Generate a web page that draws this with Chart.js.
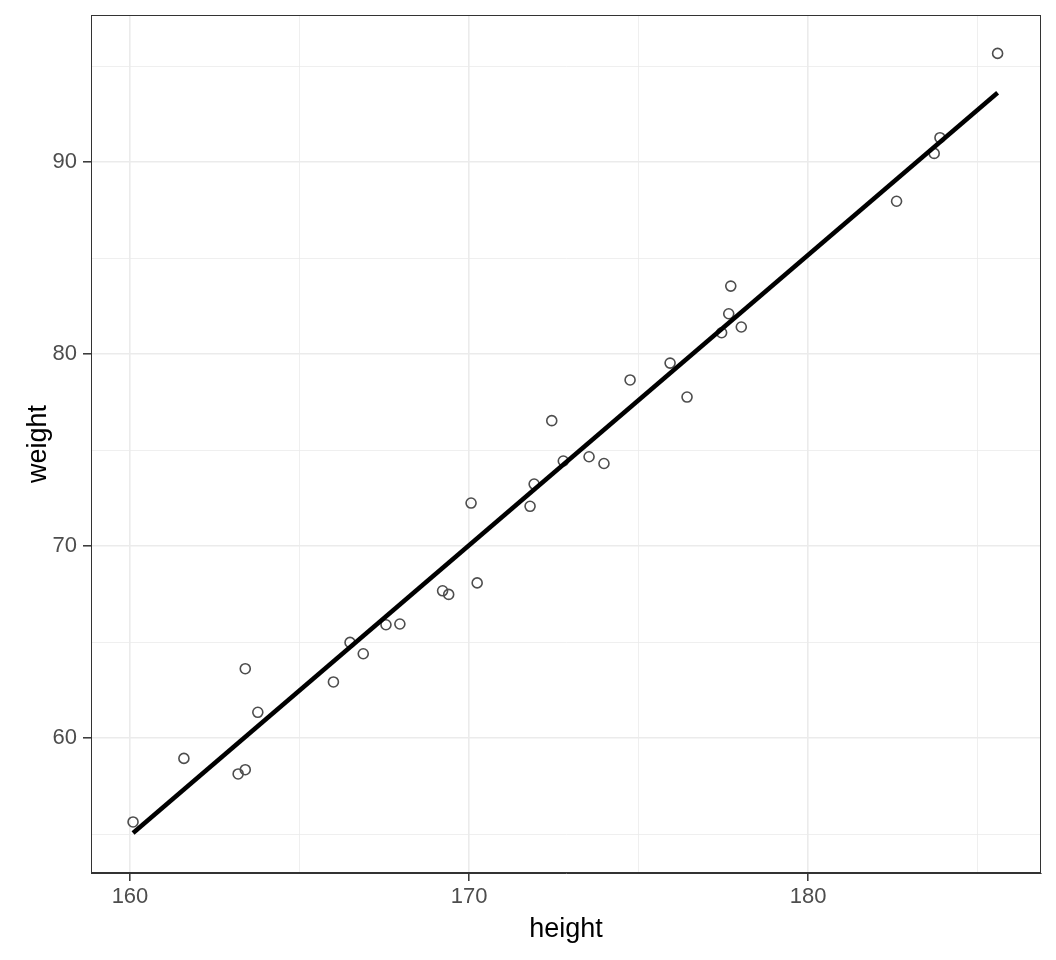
<!DOCTYPE html>
<html>
<head>
<meta charset="utf-8">
<script src="https://cdn.jsdelivr.net/npm/chart.js@4"></script>
<style>
  body { margin: 0; background: #fff; }
  canvas { display: block; }
</style>
</head>
<body>
<canvas id="chart" width="1056" height="960"></canvas>
<script>
// data
const heights = [160.09, 161.59, 163.19, 163.40, 163.40, 163.77, 166.00, 166.49, 166.88, 167.55, 167.96,
                 169.22, 169.40, 170.06, 170.24, 171.80, 171.92, 172.44, 172.78, 173.54, 173.98,
                 174.75, 175.93, 176.43, 177.45, 177.66, 177.72, 178.03, 182.61, 183.72, 183.89, 185.59];
const weights = [55.63, 58.94, 58.13, 58.35, 63.61, 61.34, 62.92, 64.98, 64.39, 65.90, 65.94,
                 67.67, 67.48, 72.24, 68.08, 72.07, 73.23, 76.53, 74.43, 74.65, 74.30,
                 78.65, 79.53, 77.76, 81.11, 82.10, 83.54, 81.41, 87.96, 90.45, 91.27, 95.66];

// fitted line ends
const fitX = [160.09, 185.59];
const fitY = [55.05, 93.61];

const xTicks = [160, 165, 170, 175, 180, 185];
const yTicks = [55, 60, 65, 70, 75, 80, 85, 90, 95];

const pts = heights.map((h, i) => ({ x: h, y: weights[i] }));
const fit = fitX.map((h, i) => ({ x: h, y: fitY[i] }));

// frame round the panel (theme_bw border)
const panelBorder = {
    id: 'panelBorder',
    afterDraw(chart) {
        const a = chart.chartArea;
        const c = chart.ctx;
        c.save();
        c.strokeStyle = '#333333';
        c.lineWidth = 1;
        c.strokeRect(a.left + 0.5, a.top + 0.5, a.right - a.left - 1, a.bottom - a.top - 1);
        c.restore();
    }
};

const isMajor = v => v % 10 === 0;

new Chart(document.getElementById('chart').getContext('2d'), {
    type: 'scatter',
    data: {
        datasets: [{
            type: 'line',
            data: fit,
            borderColor: '#000000',
            borderWidth: 4.5,
            pointRadius: 0,
            fill: false,
            order: 0
        }, {
            data: pts,
            pointStyle: 'circle',
            pointRadius: 5,
            borderWidth: 1.6,
            borderColor: '#4d4d4d',
            backgroundColor: 'rgba(0,0,0,0)',
            order: 1
        }]
    },
    options: {
        responsive: false,
        animation: false,
        layout: { padding: { left: 0, right: 15, top: 15, bottom: 0 } },
        plugins: { legend: { display: false }, tooltip: { enabled: false } },
        scales: {
            x: {
                type: 'linear',
                min: 158.85,
                max: 186.87,
                afterBuildTicks: s => { s.ticks = xTicks.map(v => ({ value: v })); },
                afterFit: s => { s.height = 87; s.paddingLeft = 0; s.paddingRight = 0; },
                ticks: {
                    callback: v => isMajor(v) ? v : '',
                    color: '#4d4d4d',
                    font: { family: 'Liberation Sans', size: 22 },
                    padding: 3,
                    maxRotation: 0,
                    autoSkip: false
                },
                grid: {
                    color: '#ebebeb',
                    lineWidth: c => isMajor(c.tick.value) ? 1.6 : 0.8,
                    tickLength: 8,
                    tickWidth: 1.5,
                    tickColor: c => isMajor(c.tick.value) ? '#333333' : 'rgba(0,0,0,0)'
                },
                border: { display: true, color: '#333333', width: 1 },
                title: {
                    display: true,
                    text: 'height',
                    color: '#000000',
                    font: { family: 'Liberation Sans', size: 27 },
                    padding: { top: 0, bottom: 14 }
                }
            },
            y: {
                type: 'linear',
                min: 52.97,
                max: 97.66,
                afterBuildTicks: s => { s.ticks = yTicks.map(v => ({ value: v })); },
                afterFit: s => { s.width = 91; s.paddingTop = 0; s.paddingBottom = 0; },
                ticks: {
                    callback: v => isMajor(v) ? v : '',
                    color: '#4d4d4d',
                    font: { family: 'Liberation Sans', size: 22 },
                    padding: 6,
                    autoSkip: false
                },
                grid: {
                    color: '#ebebeb',
                    lineWidth: c => isMajor(c.tick.value) ? 1.6 : 0.8,
                    tickLength: 8,
                    tickWidth: 1.5,
                    tickColor: c => isMajor(c.tick.value) ? '#333333' : 'rgba(0,0,0,0)'
                },
                border: { display: true, color: '#333333', width: 1 },
                title: {
                    display: true,
                    text: 'weight',
                    color: '#000000',
                    font: { family: 'Liberation Sans', size: 27 },
                    padding: { top: 22, bottom: 0 }
                }
            }
        }
    },
    plugins: [panelBorder]
});
</script>
</body>
</html>
